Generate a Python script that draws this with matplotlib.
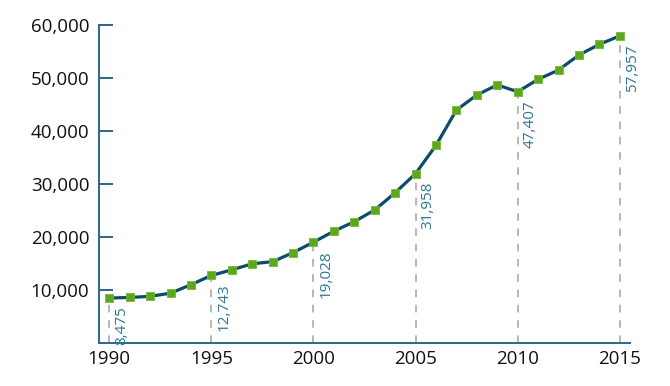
import matplotlib
matplotlib.use("Agg")
import matplotlib.pyplot as plt
from matplotlib.ticker import FuncFormatter

years = list(range(1990, 2016))
values = [8475, 8600, 8800, 9400, 11000, 12743, 13800, 14950, 15350, 17050,
          19028, 21100, 22900, 25100, 28350, 31958, 37300, 43950, 46800, 48700,
          47407, 49750, 51500, 54350, 56350, 57957]
label_years = [1990, 1995, 2000, 2005, 2010, 2015]
x_ticks = [1990, 1995, 2000, 2005, 2010, 2015]
y_ticks = [10000, 20000, 30000, 40000, 50000, 60000]

plt.rcParams['font.family'] = ['Open Sans', 'DejaVu Sans']

fig = plt.figure(figsize=(6.7, 3.86), dpi=100)
ax = fig.add_axes([0.1478, 0.1114, 0.7925, 0.8238])

axis_col = '#2a6889'
line_col = '#0c4a6e'
green = '#5da71b'
lab_col = '#2f7597'
dash_col = '#a8a2a0'

for yr in label_years:
    v = values[years.index(yr)]
    ax.plot([yr, yr], [0, v], color=dash_col, lw=1.1, ls=(0, (5, 5)), zorder=1)
    ax.annotate(f"{v:,}", xy=(yr, v), xytext=(3.5, -6), textcoords='offset points',
                rotation=90, ha='left', va='top', fontsize=11, color=lab_col)

ax.plot(years, values, color=line_col, lw=2.3, zorder=2)
ax.plot(years, values, ls='none', marker='s', ms=6, mfc=green, mec='#74b83a', mew=0.6, zorder=3)

ax.set_xlim(1989.5, 2015.5)
ax.set_ylim(0, 60000)
ax.set_xticks(x_ticks)
ax.set_yticks(y_ticks)
ax.yaxis.set_major_formatter(FuncFormatter(lambda v, p: f"{int(v):,}"))
for s in ['top', 'right']:
    ax.spines[s].set_visible(False)
for s in ['left', 'bottom']:
    ax.spines[s].set_color(axis_col)
    ax.spines[s].set_linewidth(1.4)
ax.tick_params(axis='y', direction='in', length=10, width=1.4, color=axis_col,
               labelsize=13.5, pad=7, labelcolor='#111111')
ax.tick_params(axis='x', length=0, labelsize=13.5, pad=5, labelcolor='#111111')

fig.savefig('out.png', dpi=100)
